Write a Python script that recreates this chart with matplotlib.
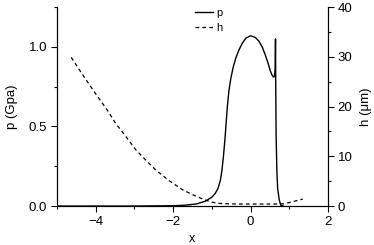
import matplotlib
matplotlib.use('Agg')
import matplotlib.pyplot as plt
from matplotlib.ticker import MultipleLocator

plt.rcParams['font.family'] = ['Liberation Sans', 'DejaVu Sans']

# pressure curve p (GPa)
x_p = [-5.0, -3.0, -2.5, -2.0, -1.7, -1.4, -1.17, -1.0, -0.91, -0.84, -0.78, -0.74, -0.70,
       -0.66, -0.63, -0.60, -0.56, -0.51, -0.45, -0.38, -0.30, -0.22, -0.12, 0.0, 0.12, 0.22,
       0.30, 0.38, 0.45, 0.51, 0.56, 0.60, 0.62, 0.635, 0.645, 0.65, 0.66, 0.68, 0.70, 0.74, 0.78, 0.85]
p = [0.0, 0.0, 0.001, 0.002, 0.005, 0.013, 0.03, 0.055, 0.08, 0.11, 0.16, 0.22, 0.31,
     0.42, 0.52, 0.62, 0.72, 0.80, 0.87, 0.93, 0.98, 1.02, 1.055, 1.07, 1.06, 1.035,
     1.0, 0.95, 0.90, 0.85, 0.82, 0.81, 0.82, 0.86, 1.05, 0.80, 0.45, 0.22, 0.11, 0.04, 0.005, 0.0]

# film thickness h (um)
x_h = [-4.63, -4.3, -4.0, -3.7, -3.48, -3.2, -2.96, -2.7, -2.44, -2.1, -1.77, -1.5, -1.17,
       -1.0, -0.86, -0.6, -0.3, 0.0, 0.3, 0.6, 0.85, 1.0, 1.15, 1.35]
h = [29.9, 26.0, 22.6, 19.3, 16.6, 13.8, 11.3, 9.2, 7.2, 5.1, 3.35, 2.3, 1.2,
     0.8, 0.55, 0.45, 0.4, 0.4, 0.4, 0.4, 0.45, 0.7, 1.0, 1.4]

fig = plt.figure(figsize=(3.74, 2.45), dpi=100)
ax = fig.add_axes([0.152, 0.159, 0.725, 0.812])
ax2 = ax.twinx()

l1, = ax.plot(x_p, p, color='black', lw=1.0, label='p')
l2, = ax2.plot(x_h, h, color='black', lw=0.9, ls=(0, (3, 2.5)), label='h')

ax.set_xlim(-5, 2)
ax.set_ylim(0, 1.25)
ax2.set_ylim(0, 40)

ax.xaxis.set_major_locator(MultipleLocator(2))
ax.xaxis.set_minor_locator(MultipleLocator(1))
ax.yaxis.set_major_locator(MultipleLocator(0.5))
ax.yaxis.set_minor_locator(MultipleLocator(0.25))
ax2.yaxis.set_major_locator(MultipleLocator(10))
ax2.yaxis.set_minor_locator(MultipleLocator(5))
ax.yaxis.set_major_formatter(plt.FormatStrFormatter('%.1f'))

for a in (ax, ax2):
    a.spines['top'].set_visible(False)
    a.tick_params(which='major', length=4.5, width=0.8, labelsize=9.5, pad=2.5)
    a.tick_params(which='minor', length=2.5, width=0.8)

ax.set_xlabel('x', fontsize=9, labelpad=4)
ax.set_ylabel('p (Gpa)', fontsize=9.5, labelpad=8)
ax2.set_ylabel('h (μm)', fontsize=9.5, labelpad=5)

fig.legend(handles=[l1, l2], loc='upper left', bbox_to_anchor=(0.51, 0.985),
           frameon=False, fontsize=8, handlelength=1.6, handletextpad=0.3,
           labelspacing=0.45, borderaxespad=0)

fig.savefig('out.png', dpi=100)
